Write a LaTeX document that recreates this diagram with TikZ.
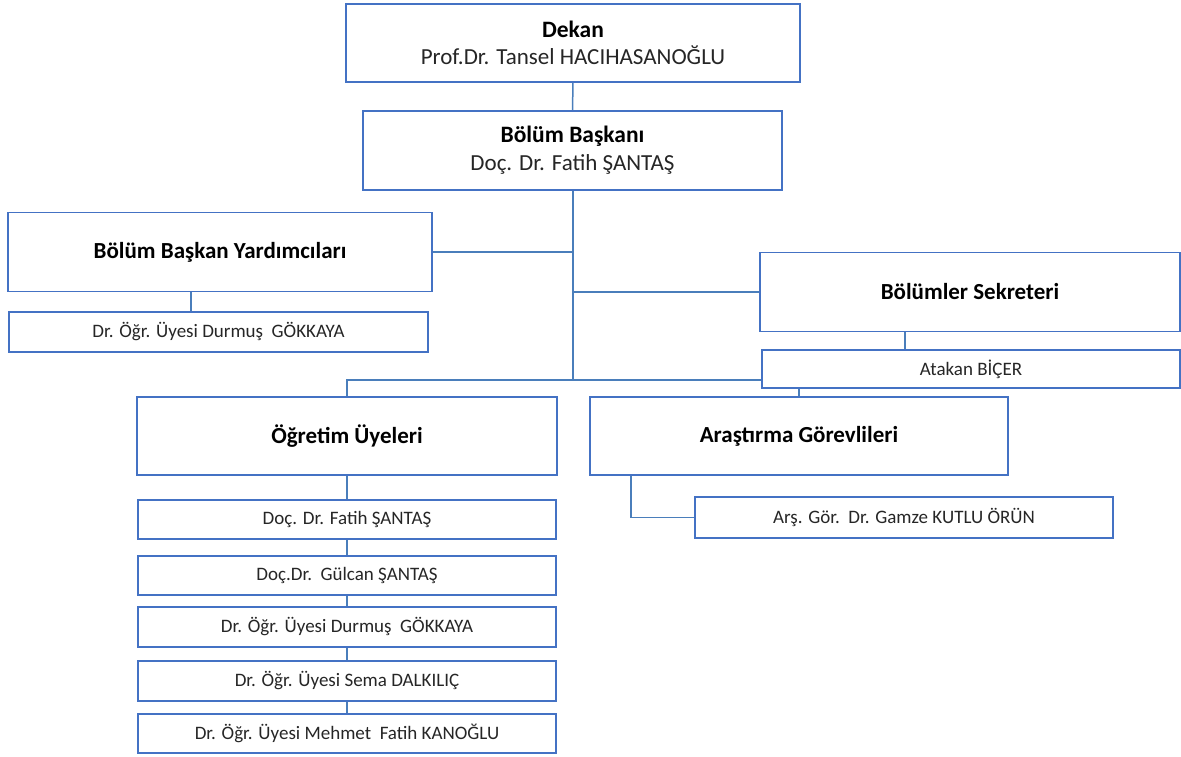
\documentclass[tikz,border=0pt]{standalone}
\usepackage{fontspec}
\setmainfont{Carlito}
\usetikzlibrary{backgrounds}
\definecolor{boxc}{HTML}{4472C4}
\definecolor{linec}{HTML}{4A7EBB}
\definecolor{namec}{HTML}{262626}
\tikzset{
  orgbox/.style={draw=boxc, fill=white, line width=1.3pt, inner sep=0pt, outer sep=0pt, align=center},
  bigbox/.style={orgbox, minimum height=78pt},
  smallbox/.style={orgbox, minimum height=39pt, font=\fontsize{19}{23}\selectfont, text=namec},
  ttl/.style={font=\fontsize{23}{28}\selectfont\bfseries, text=black},
  conn/.style={draw=linec, line width=1.5pt}
}
\begin{document}
\begin{tikzpicture}[x=1pt,y=-1pt]
\useasboundingbox (0,0) rectangle (1181,756);
% top
\node[orgbox, minimum width=454pt, minimum height=78pt] (dekan) at (573,43)
  {{\fontsize{23.5}{28}\selectfont\bfseries Dekan}\\[7pt]{\fontsize{23}{28}\selectfont\color{namec}Prof.Dr. Tansel HACIHASANOĞLU}};
\node[orgbox, minimum width=419pt, minimum height=79pt] (bb) at (572.5,150.5)
  {{\fontsize{23.5}{28}\selectfont\bfseries Bölüm Başkanı}\\[7pt]{\fontsize{23}{28}\selectfont\color{namec}Doç. Dr. Fatih ŞANTAŞ}};
% left
\node[bigbox, minimum width=424pt, minimum height=79pt, ttl] (bby) at (220,252) {Bölüm Başkan Yardımcıları};
\node[smallbox, minimum width=419pt, minimum height=40pt] (bbyg) at (218.5,332) {Dr. Öğr. Üyesi Durmuş\ \ GÖKKAYA};
% right
\node[bigbox, minimum width=420pt, minimum height=79pt, ttl] (sek) at (970,292) {Bölümler Sekreteri};
% lower
\node[bigbox, minimum width=420pt, ttl] (ou) at (347,436) {Öğretim Üyeleri};
\node[bigbox, minimum width=418pt, ttl] (ag) at (799,436) {Araştırma Görevlileri};
\node[smallbox, minimum width=418pt, minimum height=41pt] (gamze) at (904,517.5) {Arş. Gör.\ \ Dr. Gamze KUTLU ÖRÜN};
\node[smallbox, minimum width=418pt] (f1) at (347,519.5) {Doç. Dr. Fatih ŞANTAŞ};
\node[smallbox, minimum width=418pt] (f2) at (347,575.5) {Doç.Dr.\ \ Gülcan ŞANTAŞ};
\node[smallbox, minimum width=418pt, minimum height=40pt] (f3) at (347,627) {Dr. Öğr. Üyesi Durmuş\ \ GÖKKAYA};
\node[smallbox, minimum width=418pt, minimum height=40pt] (f4) at (347,681) {Dr. Öğr. Üyesi Sema DALKILIÇ};
\node[smallbox, minimum width=418pt] (f5) at (347,733.5) {Dr. Öğr. Üyesi Mehmet\ \ Fatih KANOĞLU};
\coordinate (j) at (573,380);
\node[smallbox, minimum width=418pt, minimum height=38pt] (atakan) at (971,369) {Atakan BİÇER};
\begin{pgfonlayer}{background}
\draw[conn] (dekan.south) -- (bb.north);
\draw[conn] (bb.south -| dekan.south) -- (j);
\draw[conn] (bby.east) -- (bby.east -| j);
\draw[conn] (sek.west -| j) -- (sek.west);
\draw[conn] ([xshift=-29pt]bby.south) -- ([xshift=-29pt]bby.south |- bbyg.north);
\draw[conn] ([xshift=-65pt]sek.south) -- ([xshift=-65pt]sek.south |- atakan.north);
\draw[conn] (ou.north) -- (ou.north |- j) -- (ag.north |- j) -- (ag.north);
\draw[conn] ([xshift=41pt]ag.south west) |- (gamze.west);
\draw[conn] (ou.south) -- (f1.north);
\draw[conn] (f1.south) -- (f2.north);
\draw[conn] (f2.south) -- (f3.north);
\draw[conn] (f3.south) -- (f4.north);
\draw[conn] (f4.south) -- (f5.north);
\end{pgfonlayer}
\end{tikzpicture}
\end{document}
